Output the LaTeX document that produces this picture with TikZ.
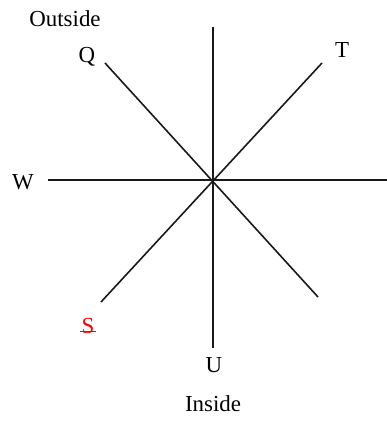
\documentclass[tikz,border=0pt]{standalone}
\usepackage{fontspec}
\setmainfont{Liberation Serif}
\begin{document}
\begin{tikzpicture}[x=1bp,y=1bp,
  lbl/.style={inner sep=0pt,font=\fontsize{23}{26}\selectfont},
  axis/.style={line width=1.6bp,black!90}]
\useasboundingbox (0,0) rectangle (387,423);
\coordinate (vt) at (213,396);
\coordinate (vb) at (213,75);
\coordinate (hl) at (48,243);
\coordinate (hr) at (387,243);
\coordinate (q1) at (105,360);
\coordinate (q2) at (318,126);
\coordinate (t1) at (322,360);
\coordinate (t2) at (101,121);
\draw[axis] (vt) -- (vb);
\draw[axis] (hl) -- (hr);
\draw[axis] (q1) -- (q2);
\draw[axis] (t1) -- (t2);
\node[lbl] (outside) at (65,404) {Outside};
\node[lbl] (Q) at (87,366) {Q};
\node[lbl] (T) at (342,373) {T};
\node[lbl] (W) at (23,241) {W};
\node[lbl,text=red] (S) at (88,97) {S};
\draw[red,line width=1bp] ([xshift=-1bp,yshift=2.5bp]S.south west) -- ([xshift=1bp,yshift=2.5bp]S.south east);
\node[lbl] (U) at (214,58) {U};
\node[lbl] (inside) at (213,19) {Inside};
\end{tikzpicture}
\end{document}
